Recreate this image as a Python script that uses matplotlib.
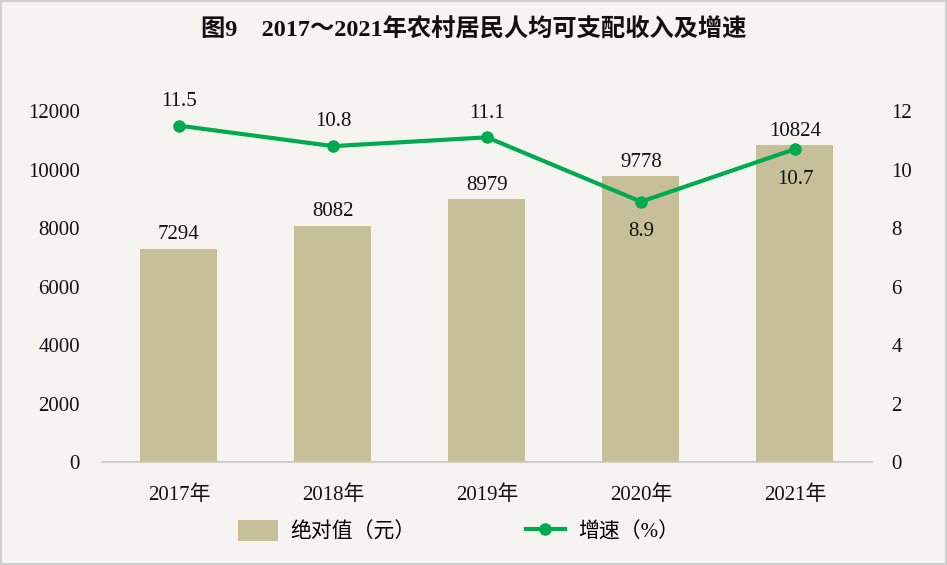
import matplotlib
matplotlib.use("Agg")
import matplotlib.pyplot as plt
from matplotlib.lines import Line2D
from matplotlib.patches import Patch

categories = ["2017年", "2018年", "2019年", "2020年", "2021年"]
income = [7294, 8082, 8979, 9778, 10824]
growth = [11.5, 10.8, 11.1, 8.9, 10.7]
left_ticks = [0, 2000, 4000, 6000, 8000, 10000, 12000]
right_ticks = [0, 2, 4, 6, 8, 10, 12]
title = "图9　2017～2021年农村居民人均可支配收入及增速"

FONT = ["Liberation Serif", "Noto Sans CJK SC", "DejaVu Sans"]
plt.rcParams["font.family"] = FONT

bar_color = "#c6bf98"
line_color = "#00aa4f"
bg = "#f6f4f1"
txt = "#111111"
FS = 15

fig = plt.figure(figsize=(9.47, 5.65), dpi=100, facecolor=bg)
ax = fig.add_axes([0.1077, 0.1823, 0.8131, 0.6212])
ax.set_facecolor("none")
x = list(range(len(categories)))
ax.bar(x, income, width=0.5, color=bar_color, zorder=2)
ax.set_xlim(-0.5, len(categories) - 0.5)
ax.set_ylim(0, 12000)
ax.set_yticks(left_ticks)
ax.set_yticklabels([str(v) for v in left_ticks], fontsize=FS, color=txt)
ax.set_xticks(x)
ax.set_xticklabels(categories, fontsize=FS, color=txt)
ax.tick_params(length=0, pad=16)
ax.tick_params(axis="x", pad=17)
for s in ["top", "right", "left"]:
    ax.spines[s].set_visible(False)
ax.spines["bottom"].set_color("#c8c8c8")
ax.spines["bottom"].set_linewidth(1.2)

for xi, v in zip(x, income):
    ax.text(xi, v + 150, str(v), ha="center", va="bottom", fontsize=FS, color=txt)

ax2 = ax.twinx()
ax2.set_ylim(0, 12)
ax2.set_yticks(right_ticks)
ax2.set_yticklabels([str(v) for v in right_ticks], fontsize=FS, color=txt)
ax2.tick_params(length=0, pad=14)
for s in ax2.spines.values():
    s.set_visible(False)
ax2.plot(x, growth, color=line_color, lw=3, marker="o", markersize=8, zorder=3, clip_on=False)

offsets = [0.5, 0.5, 0.5, -0.7, -0.7]
for xi, g, off in zip(x, growth, offsets):
    ax2.text(xi, g + off, f"{g}", ha="center", va="bottom" if off > 0 else "top",
             fontsize=FS, color=txt)

fig.text(0.5, 0.947, title, ha="center", va="center", fontsize=17.5, fontweight="bold", color=txt)

handles = [Patch(facecolor=bar_color, edgecolor="none"),
           Line2D([0], [0], color=line_color, lw=3, marker="o", markersize=8)]
fig.legend(handles, ["绝对值（元）", "增速（%）"], loc="center", bbox_to_anchor=(0.484, 0.06),
           ncol=2, frameon=False, fontsize=FS, columnspacing=5.3, handlelength=1.9,
           handleheight=1.2, handletextpad=0.6)

fig.patches.append(plt.Rectangle((0, 0), 1, 1, transform=fig.transFigure, fill=False,
                                 edgecolor="#d0d0d0", lw=3))
fig.savefig("out.png", dpi=100, facecolor=bg)
